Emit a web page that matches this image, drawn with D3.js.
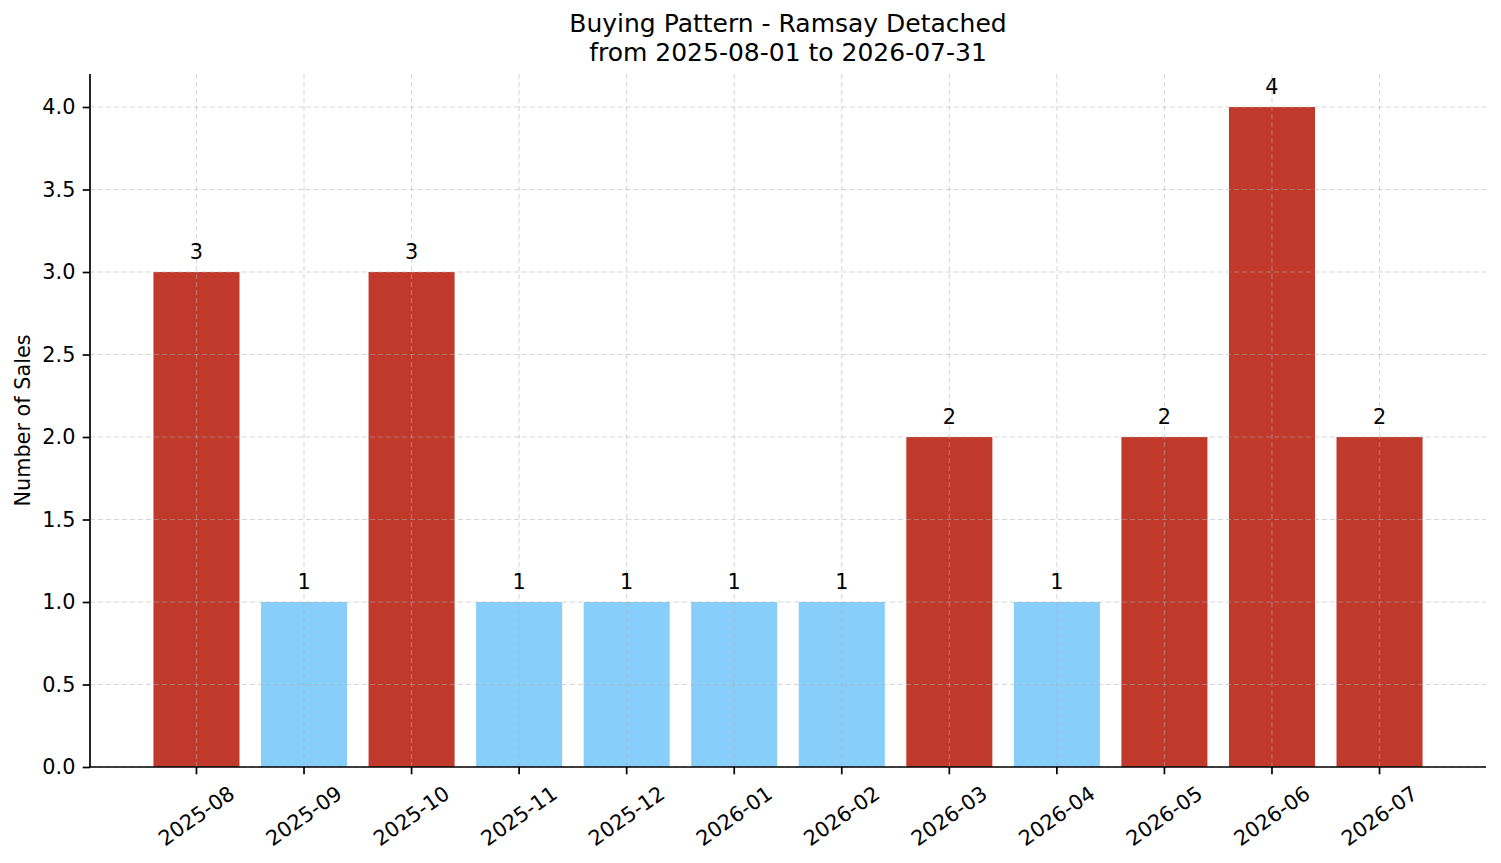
<!DOCTYPE html>
<html lang="en">
<head>
    <meta charset="UTF-8">
    <title>Buying Pattern - Ramsay Detached</title>
    <style>
        body { margin: 0; background: #fff; }
        text { font-family: "DejaVu Sans", sans-serif; fill: #000; }
    </style>
</head>
<body>
    <div id="chart"></div>
    <script src="https://d3js.org/d3.v7.min.js"></script>
    <script>
        // Data
        const MONTHS = ["2025-08", "2025-09", "2025-10", "2025-11", "2025-12", "2026-01",
                        "2026-02", "2026-03", "2026-04", "2026-05", "2026-06", "2026-07"];
        const SALES = [3, 1, 3, 1, 1, 1, 1, 2, 1, 2, 4, 2];
        const Y_TICKS = [0, 0.5, 1, 1.5, 2, 2.5, 3, 3.5, 4];
        const TITLE_LINES = ["Buying Pattern - Ramsay Detached", "from 2025-08-01 to 2026-07-31"];

        const WIDTH = 1501, HEIGHT = 863;
        const LEFT = 90, RIGHT = 1486, TOP = 74, BOTTOM = 767;
        const HIGH_COLOR = "#c0392b", LOW_COLOR = "#87cefa";
        const FONT = 20.8;

        const mean = d3.mean(SALES);

        const x = d3.scaleBand()
            .domain(MONTHS)
            .range([LEFT, RIGHT])
            .paddingInner(0.2)
            .paddingOuter(0.59);

        const y = d3.scaleLinear()
            .domain([0, 4.2])
            .range([BOTTOM, TOP]);

        const svg = d3.select("#chart")
            .append("svg")
            .attr("width", WIDTH)
            .attr("height", HEIGHT);

        // bars
        svg.append("g")
            .selectAll("rect")
            .data(SALES)
            .join("rect")
            .attr("x", (d, i) => x(MONTHS[i]))
            .attr("y", d => y(d))
            .attr("width", x.bandwidth())
            .attr("height", d => y(0) - y(d))
            .attr("fill", d => d > mean ? HIGH_COLOR : LOW_COLOR);

        // grid, drawn over the bars
        const grid = svg.append("g")
            .attr("stroke", "#b0b0b0")
            .attr("stroke-opacity", 0.5)
            .attr("stroke-width", 1.1)
            .attr("stroke-dasharray", "5,3");

        grid.selectAll(".hg")
            .data(Y_TICKS)
            .join("line")
            .attr("x1", LEFT).attr("x2", RIGHT)
            .attr("y1", d => y(d)).attr("y2", d => y(d));

        grid.selectAll(".vg")
            .data(MONTHS)
            .join("line")
            .attr("x1", d => x(d) + x.bandwidth() / 2)
            .attr("x2", d => x(d) + x.bandwidth() / 2)
            .attr("y1", TOP).attr("y2", BOTTOM);

        // value labels
        svg.append("g")
            .selectAll("text")
            .data(SALES)
            .join("text")
            .attr("x", (d, i) => x(MONTHS[i]) + x.bandwidth() / 2)
            .attr("y", d => y(d) - 13)
            .attr("text-anchor", "middle")
            .attr("font-size", FONT)
            .text(d => d);

        // y axis
        const yAxis = svg.append("g")
            .attr("transform", `translate(${LEFT},0)`)
            .call(d3.axisLeft(y).tickValues(Y_TICKS).tickFormat(d3.format(".1f")).tickSize(7.3).tickPadding(7.3));

        // x axis
        const xAxis = svg.append("g")
            .attr("transform", `translate(0,${BOTTOM})`)
            .call(d3.axisBottom(x).tickSize(7.3).tickPadding(0));

        [yAxis, xAxis].forEach(ax => {
            ax.select(".domain").attr("stroke", "#000").attr("stroke-width", 1.7);
            ax.selectAll(".tick line").attr("stroke", "#000").attr("stroke-width", 1.7);
            ax.selectAll(".tick text")
                .attr("font-family", "DejaVu Sans")
                .attr("font-size", FONT)
                .attr("fill", "#000");
        });
        xAxis.select(".domain").attr("d", `M${LEFT},0H${RIGHT}`);
        yAxis.select(".domain").attr("d", `M0,${BOTTOM}V${TOP}`);

        xAxis.selectAll(".tick text")
            .attr("y", 0)
            .attr("dy", null)
            .attr("text-anchor", "middle")
            .attr("dominant-baseline", "central")
            .attr("transform", "translate(0,49) rotate(-35)");

        // y label
        svg.append("text")
            .attr("transform", `translate(30,${(TOP + BOTTOM) / 2}) rotate(-90)`)
            .attr("text-anchor", "middle")
            .attr("font-size", FONT)
            .text("Number of Sales");

        // title
        svg.append("g")
            .selectAll("text")
            .data(TITLE_LINES)
            .join("text")
            .attr("x", (LEFT + RIGHT) / 2)
            .attr("y", (d, i) => 32 + i * 29)
            .attr("text-anchor", "middle")
            .attr("font-size", 25)
            .text(d => d);
    </script>
</body>
</html>
